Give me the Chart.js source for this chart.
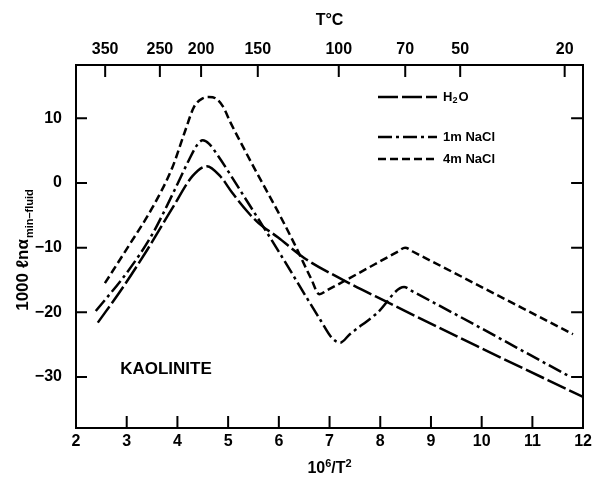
<!DOCTYPE html>
<html lang="en">
<head>
<meta charset="UTF-8">
<title>Kaolinite - mineral/fluid fractionation</title>
<script src="https://cdn.jsdelivr.net/npm/chart.js"></script>
<style>
  body { margin: 0; background: #fff; }
  #wrap { width: 596px; height: 477px; position: relative; }
</style>
</head>
<body>
<div id="wrap"><canvas id="chart"></canvas></div>
<script>
// x = 10^6/T^2 (T in K), y = 1000 ln(alpha min-fluid)
const h2oX = [2.43, 2.92, 3.4, 3.9, 4.3, 4.58, 4.85, 5.07, 5.4, 5.6, 5.98, 6.5, 7.29, 8.13, 9.9, 12.0];
const h2oY = [-21.6, -16.2, -10.4, -3.9, 1.1, 2.6, 1.0, -1.4, -4.6, -6.2, -8.4, -11.6, -15.1, -18.4, -25.2, -33.1];

const nacl1X = [2.39, 3.0, 3.5, 3.95, 4.23, 4.4, 4.5, 4.62, 4.8, 5.3, 5.95, 6.82, 7.05, 7.21, 7.4, 7.94, 8.47, 8.62, 11.75];
const nacl1Y = [-19.8, -13.9, -8.0, -1.0, 3.6, 6.0, 6.6, 6.1, 4.2, -1.9, -10.0, -21.2, -24.0, -24.7, -23.4, -20.1, -16.1, -16.7, -30.0];

const nacl4X = [2.57, 3.05, 3.5, 3.9, 4.15, 4.33, 4.5, 4.62, 4.75, 4.9, 5.05, 5.3, 5.55, 5.98, 6.3, 6.63, 6.8, 6.95, 8.35, 8.49, 8.64, 11.8];
const nacl4Y = [-15.5, -9.6, -3.9, 2.4, 8.0, 11.8, 13.1, 13.3, 13.1, 11.8, 9.3, 5.5, 1.8, -4.4, -9.3, -14.7, -17.2, -16.6, -10.6, -10.0, -10.6, -23.4];

const seriesNames = ['H₂O', '1m NaCl', '4m NaCl'];
const xTicks = [2, 3, 4, 5, 6, 7, 8, 9, 10, 11, 12];
const yTicks = [-30, -20, -10, 0, 10];
const topTempLabels = [350, 250, 200, 150, 100, 70, 50, 20]; // deg C

const FONT = "'Liberation Sans', Arial, sans-serif";

function pts(xs, ys) {
    return xs.map((x, i) => ({ x: x, y: ys[i] }));
}

function lineSet(label, data, dash) {
    return {
        label: label,
        data: data,
        showLine: true,
        borderColor: '#000',
        borderWidth: 2.5,
        borderDash: dash,
        pointRadius: 0,
        cubicInterpolationMode: 'monotone',
        fill: false
    };
}

// tick marks pointing into the plot, on all four sides
const innerTicks = {
    id: 'innerTicks',
    afterDraw(chart) {
        const { ctx, chartArea: a, scales } = chart;
        ctx.save();
        ctx.strokeStyle = '#000';
        ctx.lineWidth = 2;
        ctx.beginPath();
        scales.x.ticks.forEach(t => {
            const px = scales.x.getPixelForValue(t.value);
            if (px <= a.left + 1 || px >= a.right - 1) return;
            ctx.moveTo(px, a.bottom);
            ctx.lineTo(px, a.bottom - 12);
        });
        scales.xTop.ticks.forEach(t => {
            const px = scales.xTop.getPixelForValue(t.value);
            ctx.moveTo(px, a.top);
            ctx.lineTo(px, a.top + 12);
        });
        scales.y.ticks.forEach(t => {
            const py = scales.y.getPixelForValue(t.value);
            ctx.moveTo(a.left, py);
            ctx.lineTo(a.left + 11, py);
            ctx.moveTo(a.right, py);
            ctx.lineTo(a.right - 12, py);
        });
        ctx.stroke();
        ctx.restore();
    }
};

// draws runs of [text, size, raise] side by side, centred on cx
function drawRuns(ctx, runs, cx, y) {
    let total = 0;
    runs.forEach(r => {
        ctx.font = 'bold ' + r[1] + 'px ' + FONT;
        total += ctx.measureText(r[0]).width;
    });
    let x = cx - total / 2;
    ctx.textAlign = 'left';
    ctx.textBaseline = 'alphabetic';
    runs.forEach(r => {
        ctx.font = 'bold ' + r[1] + 'px ' + FONT;
        ctx.fillText(r[0], x, y - r[2]);
        x += ctx.measureText(r[0]).width;
    });
}

// legend, mineral label, x title and the y title with its subscript
const annotations = {
    id: 'annotations',
    afterDraw(chart) {
        const ctx = chart.ctx;
        const a = chart.chartArea;
        ctx.save();
        ctx.fillStyle = '#000';
        ctx.strokeStyle = '#000';

        // legend
        const rows = [97, 137, 159];
        chart.data.datasets.forEach((ds, i) => {
            const y = rows[i];
            ctx.lineWidth = ds.borderWidth;
            ctx.setLineDash(ds.borderDash);
            ctx.beginPath();
            ctx.moveTo(378, y);
            ctx.lineTo(437, y);
            ctx.stroke();
            ctx.setLineDash([]);
            ctx.textBaseline = 'middle';
            ctx.textAlign = 'left';
            if (i === 0) {
                ctx.font = 'bold 13px ' + FONT;
                let x = 443;
                ctx.fillText('H', x, y);
                x += ctx.measureText('H').width;
                ctx.font = 'bold 9px ' + FONT;
                ctx.fillText('2', x, y + 4);
                x += ctx.measureText('2').width + 1;
                ctx.font = 'bold 13px ' + FONT;
                ctx.fillText('O', x, y);
            } else {
                ctx.font = 'bold 13px ' + FONT;
                ctx.fillText(ds.label, 443, y);
            }
        });

        ctx.font = 'bold 17px ' + FONT;
        ctx.textAlign = 'center';
        ctx.textBaseline = 'middle';
        ctx.fillText('KAOLINITE', 166, 369);

        // x title with superscripts
        drawRuns(ctx, [['10', 16, 0], ['6', 11, 6], ['/T', 16, 0], ['2', 11, 6]], (a.left + a.right) / 2, 473);

        // y title, rotated
        const main = '1000 ℓnα';
        const sub = 'min–fluid';
        ctx.font = 'bold 17px ' + FONT;
        const wMain = ctx.measureText(main).width;
        ctx.font = 'bold 11px ' + FONT;
        const wSub = ctx.measureText(sub).width;
        const total = wMain + 1 + wSub;
        ctx.translate(28, 250);
        ctx.rotate(-Math.PI / 2);
        ctx.textAlign = 'left';
        ctx.textBaseline = 'alphabetic';
        ctx.font = 'bold 17px ' + FONT;
        ctx.fillText(main, -total / 2, 0);
        ctx.font = 'bold 11px ' + FONT;
        ctx.fillText(sub, -total / 2 + wMain + 1, 5);
        ctx.restore();
    }
};

const tickFont = { family: FONT, size: 16, weight: 'bold' };

new Chart(document.getElementById('chart'), {
    type: 'scatter',
    data: {
        datasets: [
            lineSet(seriesNames[0], pts(h2oX, h2oY), [20, 4]),
            lineSet(seriesNames[1], pts(nacl1X, nacl1Y), [14, 4, 3, 4]),
            lineSet(seriesNames[2], pts(nacl4X, nacl4Y), [8, 4])
        ]
    },
    options: {
        responsive: true,
        maintainAspectRatio: false,
        animation: false,
        layout: { padding: 0 },
        plugins: {
            legend: { display: false },
            tooltip: { enabled: false }
        },
        scales: {
            x: {
                type: 'linear',
                position: 'bottom',
                min: 2,
                max: 12,
                afterBuildTicks: s => { s.ticks = xTicks.map(v => ({ value: v })); },
                afterFit: s => { s.height = 49; },
                ticks: { color: '#000', font: tickFont, padding: 4, maxRotation: 0 },
                grid: { drawOnChartArea: false, drawTicks: false },
                border: { color: '#000', width: 2 }
            },
            xTop: {
                type: 'linear',
                position: 'top',
                min: 2,
                max: 12,
                afterBuildTicks: s => {
                    s.ticks = topTempLabels.map(t => ({ value: 1e6 / Math.pow(t + 273.15, 2) }));
                },
                afterFit: s => { s.height = 65; },
                ticks: {
                    color: '#000',
                    font: tickFont,
                    padding: 6,
                    maxRotation: 0,
                    autoSkip: false,
                    callback: (v, i) => String(topTempLabels[i])
                },
                grid: { drawOnChartArea: false, drawTicks: false },
                border: { color: '#000', width: 2 },
                title: {
                    display: true,
                    text: 'T°C',
                    color: '#000',
                    font: { family: FONT, size: 16, weight: 'bold' },
                    padding: { top: 11, bottom: 0 }
                }
            },
            y: {
                type: 'linear',
                position: 'left',
                min: -37.9,
                max: 18.25,
                afterBuildTicks: s => { s.ticks = yTicks.map(v => ({ value: v })); },
                afterFit: s => { s.width = 76; },
                ticks: {
                    color: '#000',
                    font: tickFont,
                    padding: 14,
                    callback: v => (v < 0 ? '−' + Math.abs(v) : String(v))
                },
                grid: { drawOnChartArea: false, drawTicks: false },
                border: { color: '#000', width: 2 }
            },
            yRight: {
                type: 'linear',
                position: 'right',
                min: -37.9,
                max: 18.25,
                afterFit: s => { s.width = 8; },
                ticks: { display: false },
                grid: { drawOnChartArea: false, drawTicks: false },
                border: { color: '#000', width: 2 }
            }
        }
    },
    plugins: [innerTicks, annotations]
});
</script>
</body>
</html>
